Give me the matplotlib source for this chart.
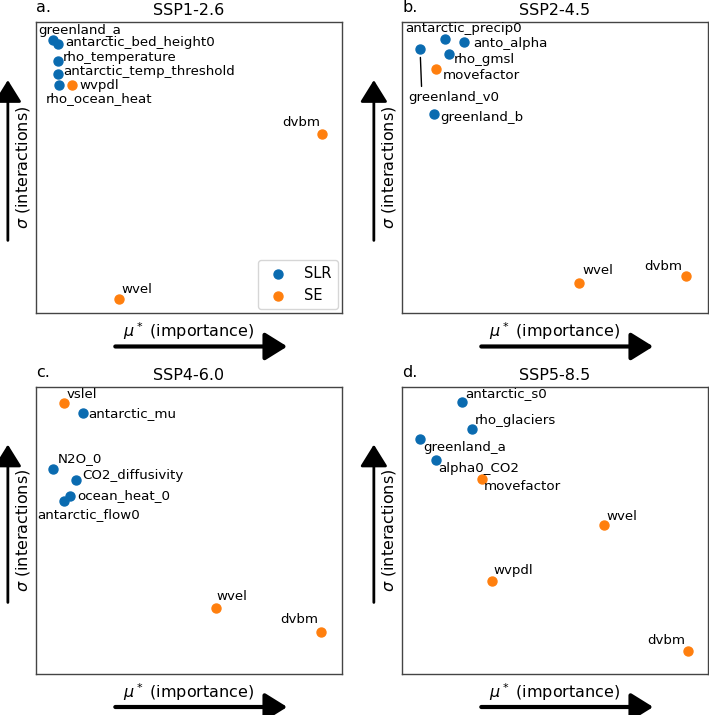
import matplotlib
matplotlib.use('Agg')
import matplotlib.pyplot as plt

# colores
c_slr = '#0a6bb0'
c_se = '#ff7f0e'

# Datos (unidades arbitrarias, 0-1)
# Panel a: SSP1-2.6
a_names = ['greenland_a', 'antarctic_bed_height0', 'rho_temperature',
           'antarctic_temp_threshold', 'rho_ocean_heat', 'wvpdl', 'dvbm', 'wvel']
a_mu = [0.056, 0.072, 0.072, 0.072, 0.075, 0.118, 0.935, 0.271]
a_sigma = [0.938, 0.924, 0.866, 0.821, 0.784, 0.784, 0.615, 0.048]
a_group = ['SLR', 'SLR', 'SLR', 'SLR', 'SLR', 'SE', 'SE', 'SE']

# Panel b: SSP2-4.5
b_names = ['antarctic_precip0', 'anto_alpha', 'greenland_v0', 'rho_gmsl',
           'movefactor', 'greenland_b', 'wvel', 'dvbm']
b_mu = [0.141, 0.203, 0.059, 0.154, 0.111, 0.105, 0.578, 0.928]
b_sigma = [0.942, 0.931, 0.907, 0.890, 0.838, 0.684, 0.103, 0.127]
b_group = ['SLR', 'SLR', 'SLR', 'SLR', 'SE', 'SLR', 'SE', 'SE']

# Panel c: SSP4-6.0
c_names = ['vslel', 'antarctic_mu', 'N2O_0', 'CO2_diffusivity',
           'ocean_heat_0', 'antarctic_flow0', 'wvel', 'dvbm']
c_mu = [0.092, 0.154, 0.056, 0.131, 0.111, 0.092, 0.588, 0.931]
c_sigma = [0.944, 0.909, 0.714, 0.676, 0.620, 0.603, 0.230, 0.146]
c_group = ['SE', 'SLR', 'SLR', 'SLR', 'SLR', 'SLR', 'SE', 'SE']

# Panel d: SSP5-8.5
d_names = ['antarctic_s0', 'rho_glaciers', 'greenland_a', 'alpha0_CO2',
           'movefactor', 'wvel', 'wvpdl', 'dvbm']
d_mu = [0.196, 0.229, 0.059, 0.111, 0.261, 0.660, 0.294, 0.935]
d_sigma = [0.948, 0.854, 0.819, 0.746, 0.679, 0.519, 0.324, 0.080]
d_group = ['SLR', 'SLR', 'SLR', 'SLR', 'SE', 'SE', 'SE', 'SE']

# desplazamiento de las etiquetas (pixeles) y alineacion
a_off = [(-15, 10, 'left'), (7, 2, 'left'), (5, 4, 'left'), (5, 3, 'left'),
         (-13, -14, 'left'), (7, -1, 'left'), (-2, 12, 'right'), (2, 10, 'left')]
b_off = [(-40, 10, 'left'), (9, -1, 'left'), (-12, -48, 'left'), (5, -5, 'left'),
         (7, -6, 'left'), (6, -4, 'left'), (4, 13, 'left'), (-4, 10, 'right')]
c_off = [(2, 9, 'left'), (5, 0, 'left'), (5, 11, 'left'), (6, 5, 'left'),
         (7, 1, 'left'), (-27, -13, 'left'), (0, 12, 'left'), (-3, 13, 'right')]
d_off = [(3, 9, 'left'), (3, 9, 'left'), (3, -8, 'left'), (2, -8, 'left'),
         (2, -7, 'left'), (2, 9, 'left'), (1, 11, 'left'), (-3, 11, 'right')]

paneles = [
    ('a.', 'SSP1-2.6', a_names, a_mu, a_sigma, a_group, a_off),
    ('b.', 'SSP2-4.5', b_names, b_mu, b_sigma, b_group, b_off),
    ('c.', 'SSP4-6.0', c_names, c_mu, c_sigma, c_group, c_off),
    ('d.', 'SSP5-8.5', d_names, d_mu, d_sigma, d_group, d_off),
]

pos = [[0.0508, 0.5622, 0.4316, 0.407],
       [0.567, 0.5622, 0.4316, 0.407],
       [0.0508, 0.0573, 0.4316, 0.401],
       [0.567, 0.0573, 0.4316, 0.401]]

fig = plt.figure(figsize=(7.09, 7.15), dpi=100)

for k, (letra, titulo, names, mu, sigma, group, off) in enumerate(paneles):
    ax = fig.add_axes(pos[k])
    for g, col in [('SLR', c_slr), ('SE', c_se)]:
        xs = [m for m, gg in zip(mu, group) if gg == g]
        ys = [s for s, gg in zip(sigma, group) if gg == g]
        ax.scatter(xs, ys, s=42, color=col, label=g, zorder=3)
    for i in range(len(names)):
        dx, dy, ha = off[i]
        if names[i] == 'greenland_v0':
            ax.annotate(names[i], (mu[i], sigma[i]), xytext=(dx, dy),
                        textcoords='offset pixels', ha=ha, va='center', fontsize=9.6,
                        arrowprops=dict(arrowstyle='-', color='k', lw=1,
                                        relpos=(0.15, 1.0), shrinkA=1, shrinkB=6))
        else:
            ax.annotate(names[i], (mu[i], sigma[i]), xytext=(dx, dy),
                        textcoords='offset pixels', ha=ha, va='center', fontsize=9.6)
    ax.set_xlim(0, 1)
    ax.set_ylim(0, 1)
    ax.set_xticks([])
    ax.set_yticks([])
    for sp in ax.spines.values():
        sp.set_color('#444444')
        sp.set_linewidth(1.0)
    ax.set_title(titulo, fontsize=11.5, pad=5)
    ax.text(0.0, 1.035, letra, transform=ax.transAxes, fontsize=11.5, va='baseline')
    # flechas de los ejes
    ax.annotate('', xy=(0.83, -0.115), xytext=(0.25, -0.115), xycoords='axes fraction',
                arrowprops=dict(arrowstyle='-|>,head_length=0.45,head_width=0.28',
                                lw=3, color='k', mutation_scale=30), annotation_clip=False)
    ax.annotate('', xy=(-0.092, 0.81), xytext=(-0.092, 0.24), xycoords='axes fraction',
                arrowprops=dict(arrowstyle='-|>,head_length=0.45,head_width=0.28',
                                lw=2, color='k', mutation_scale=30), annotation_clip=False)
    ax.text(0.5, -0.062, r'$\mu^*$ (importance)', transform=ax.transAxes,
            ha='center', va='center', fontsize=11.5)
    ax.text(-0.042, 0.5, r'$\sigma$ (interactions)', transform=ax.transAxes,
            ha='center', va='center', rotation=90, fontsize=11.5)
    if k == 0:
        ax.legend(loc='lower right', fontsize=10.5, borderaxespad=0.3)

plt.savefig('out.png', dpi=100)
plt.close()
